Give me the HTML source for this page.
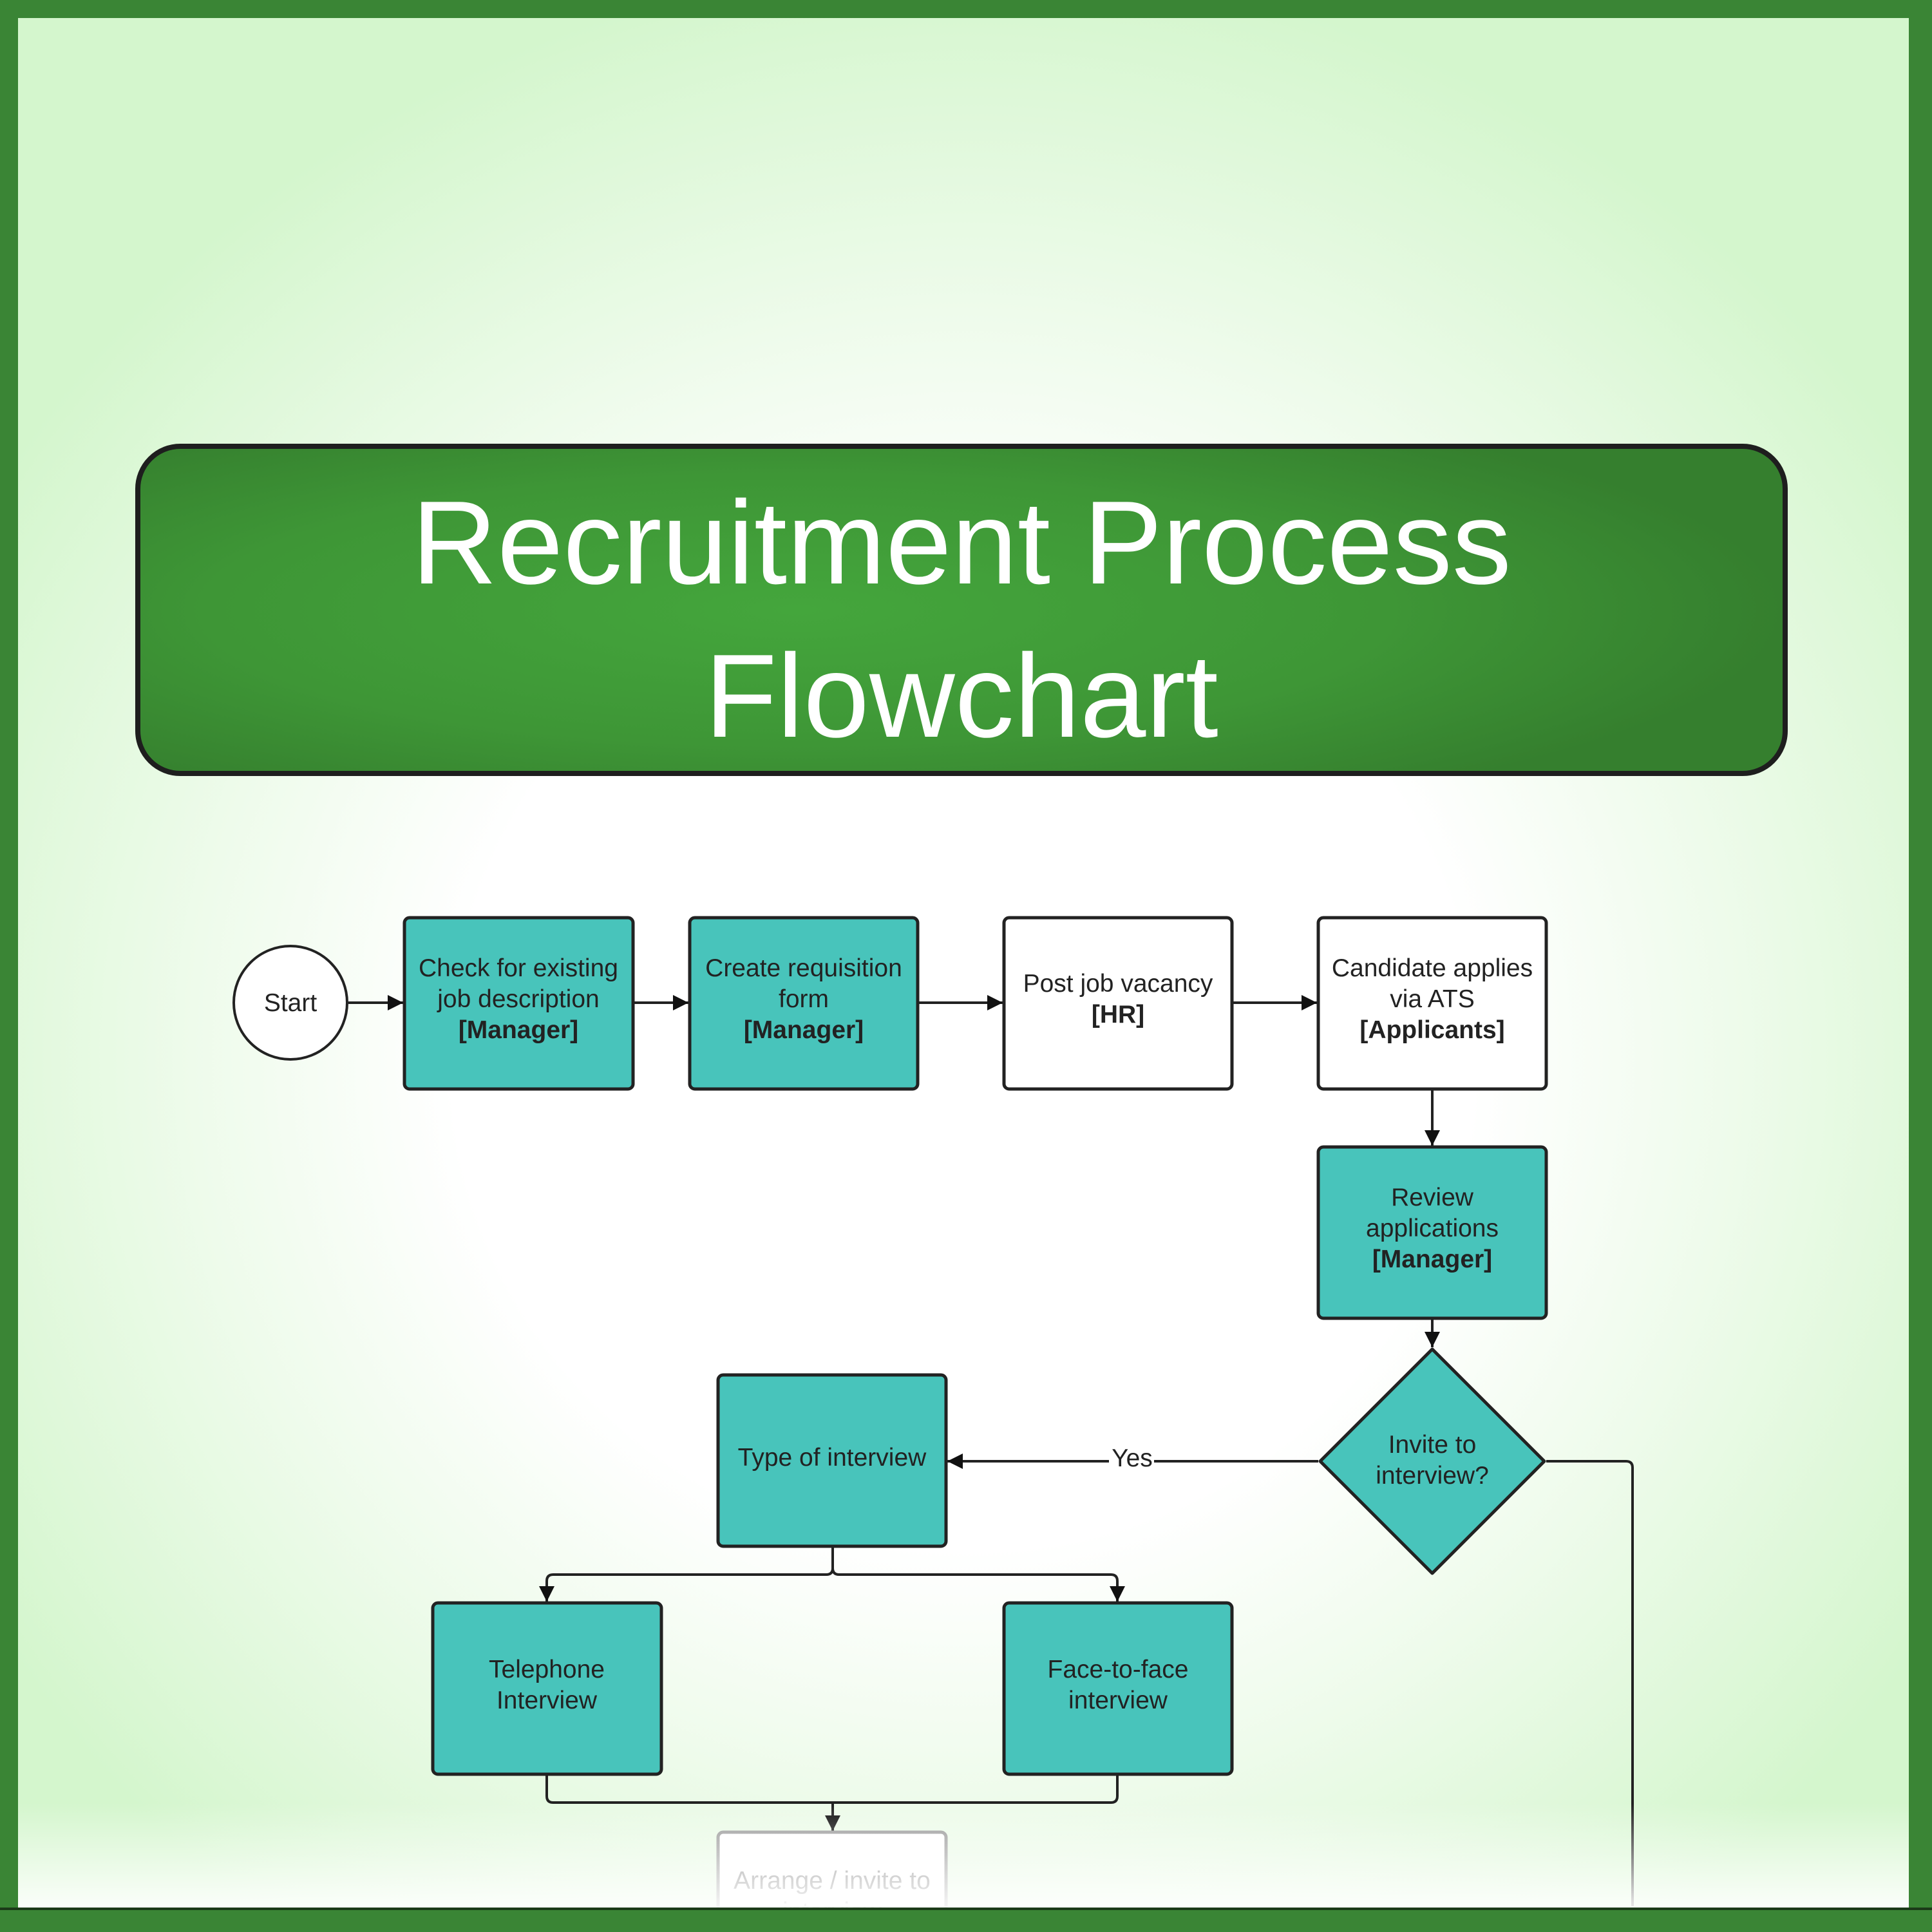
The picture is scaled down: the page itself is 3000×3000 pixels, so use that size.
<!DOCTYPE html>
<html><head><meta charset="utf-8"><style>
html,body{margin:0;padding:0}
body{width:3000px;height:3000px;overflow:hidden;background:#3a8535;position:relative;font-family:"Liberation Sans",sans-serif}
#bg{position:absolute;left:28px;top:28px;width:2936px;height:2934px;background:radial-gradient(ellipse 60% 58% at 50% 55%,#ffffff 45%,#eefbeb 68%,#d4f6cd 100%)}
#fade{position:absolute;left:28px;top:2800px;width:2936px;height:162px;background:linear-gradient(to bottom,rgba(255,255,255,0),rgba(255,255,255,0.9))}
#title{position:absolute;left:210px;top:689px;width:2566px;height:516px;border:8px solid #1e1e1e;border-radius:70px;background:radial-gradient(ellipse 60% 70% at 40% 50%,#44a63c,#3e9636 60%,#357f2e 100%);color:#fff;text-align:center;font-size:184px;line-height:238px;box-sizing:border-box;padding-top:26px}
#clip{position:absolute;left:0;top:0;width:3000px;height:2962px;overflow:hidden}
#line{position:absolute;left:0;top:2962px;width:3000px;height:4px;background:#1b3a18}
</style></head><body>
<div id="bg"></div>
<div id="title">Recruitment Process<br>Flowchart</div>
<div id="clip">
<svg width="3000" height="3000" style="position:absolute;left:0;top:0" font-family="Liberation Sans, sans-serif" font-size="39" fill="#222">
<defs>
<marker id="b" viewBox="0 0 10 10" refX="10" refY="5" markerWidth="30" markerHeight="24" orient="auto" markerUnits="userSpaceOnUse"><path d="M0,0L10,5L0,10z" fill="#111"/></marker></defs>
<g stroke="#222" stroke-width="4" fill="none">
<path d="M541,1557H626" marker-end="url(#b)"/>
<path d="M983,1557H1069" marker-end="url(#b)"/>
<path d="M1425,1557H1557" marker-end="url(#b)"/>
<path d="M1913,1557H2045" marker-end="url(#b)"/>
<path d="M2224,1691V1779" marker-end="url(#b)"/>
<path d="M2224,2047V2092" marker-end="url(#b)"/>
<path d="M2047,2269H1471" marker-end="url(#b)"/>
<path d="M2401,2269H2525Q2535,2269 2535,2279V2960"/>
<path d="M1293,2401V2435Q1293,2445 1283,2445H859Q849,2445 849,2455V2487" marker-end="url(#b)"/>
<path d="M1293,2435Q1293,2445 1303,2445H1725Q1735,2445 1735,2455V2487" marker-end="url(#b)"/>
<path d="M849,2755V2789Q849,2799 859,2799H1725Q1735,2799 1735,2789V2755"/>
<path d="M1293,2799V2843" marker-end="url(#b)"/>
</g>
<rect x="1722" y="2245" width="70" height="40" fill="#fff"/>
<text x="1758" y="2277" text-anchor="middle">Yes</text>
<circle cx="451" cy="1557" r="88" fill="#fff" stroke="#222" stroke-width="4"/>
<text x="451" y="1570" text-anchor="middle">Start</text>
<g stroke="#222" stroke-width="5">
<rect x="628" y="1425" width="355" height="266" rx="8" fill="#48c4bb"/>
<rect x="1071" y="1425" width="354" height="266" rx="8" fill="#48c4bb"/>
<rect x="1559" y="1425" width="354" height="266" rx="8" fill="#fff"/>
<rect x="2047" y="1425" width="354" height="266" rx="8" fill="#fff"/>
<rect x="2047" y="1781" width="354" height="266" rx="8" fill="#48c4bb"/>
<path d="M2224,2095L2398,2269L2224,2443L2050,2269Z" fill="#48c4bb" stroke-linejoin="round"/>
<rect x="1115" y="2135" width="354" height="266" rx="8" fill="#48c4bb"/>
<rect x="672" y="2489" width="355" height="266" rx="8" fill="#48c4bb"/>
<rect x="1559" y="2489" width="354" height="266" rx="8" fill="#48c4bb"/>
<rect x="1115" y="2845" width="354" height="200" rx="8" fill="#fff" stroke="#999"/>
</g>
<g text-anchor="middle">
<text x="805" y="1516">Check for existing</text><text x="805" y="1564">job description</text><text x="805" y="1612" font-weight="bold">[Manager]</text>
<text x="1248" y="1516">Create requisition</text><text x="1248" y="1564">form</text><text x="1248" y="1612" font-weight="bold">[Manager]</text>
<text x="1736" y="1540">Post job vacancy</text><text x="1736" y="1588" font-weight="bold">[HR]</text>
<text x="2224" y="1516">Candidate applies</text><text x="2224" y="1564">via ATS</text><text x="2224" y="1612" font-weight="bold">[Applicants]</text>
<text x="2224" y="1872">Review</text><text x="2224" y="1920">applications</text><text x="2224" y="1968" font-weight="bold">[Manager]</text>
<text x="2224" y="2256">Invite to</text><text x="2224" y="2304">interview?</text>
<text x="1292" y="2276">Type of interview</text>
<text x="849" y="2605">Telephone</text><text x="849" y="2653">Interview</text>
<text x="1736" y="2605">Face-to-face</text><text x="1736" y="2653">interview</text>
<text x="1292" y="2933" fill="#888">Arrange / invite to</text><text x="1292" y="2981" fill="#aaa">interview</text>
</g>
</svg>
<div id="fade"></div>
</div>
<div id="line"></div>
</body></html>
